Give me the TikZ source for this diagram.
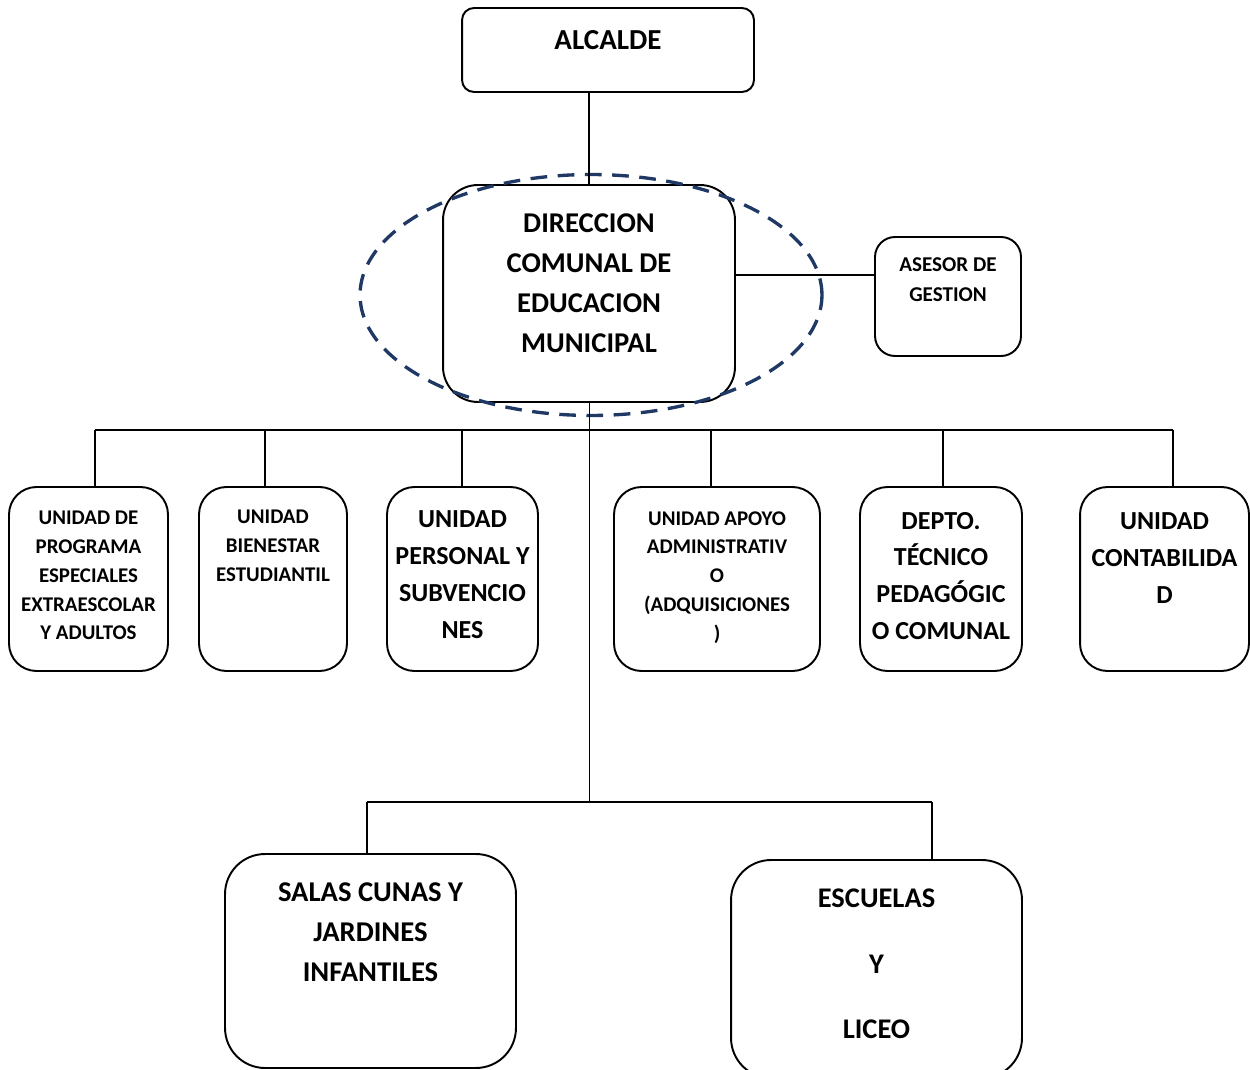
\documentclass[tikz,border=0pt]{standalone}
\usepackage{fontspec}
\setmainfont{Carlito}
\definecolor{navy}{HTML}{1F3864}

\begin{document}
\begin{tikzpicture}[x=0.02cm,y=-0.02cm,
    box/.style={draw,line width=1.1pt,rounded corners=#1},
    box/.default=0.55cm,
    small/.style={font=\bfseries\fontsize{11.9}{16.4}\selectfont,align=center},
    big/.style={font=\bfseries\fontsize{14.8}{21}\selectfont,align=center},
    huge/.style={font=\bfseries\fontsize{16.3}{22.7}\selectfont,align=center},
    link/.style={line width=0.8pt}]
        \useasboundingbox (0,0) rectangle (1250,1070);
        % top levels
        \node[box=0.24cm,minimum width=5.84cm,minimum height=1.68cm] (alc) at (608,50) {};
        \node[font=\bfseries\fontsize{16.5}{20}\selectfont] (alct) at ([yshift=0.2cm]alc.center) {ALCALDE};
        \node[box=0.7cm,minimum width=5.84cm,minimum height=4.34cm] (dir) at (589,293.5) {};
        \node[huge] (dirt) at ([yshift=0.2cm]dir.center) {DIRECCION\\COMUNAL DE\\EDUCACION\\MUNICIPAL};
        \node[box=0.4cm,minimum width=2.92cm,minimum height=2.38cm] (ase) at (948,296.5) {};
        \node[font=\bfseries\fontsize{12}{17}\selectfont,align=center] (aset) at ([yshift=0.33cm]ase.center) {ASESOR DE\\GESTION};
        \draw[navy,line width=1.9pt,dash pattern=on 9.5pt off 6pt] (591,295) ellipse [x radius=4.62cm,y radius=2.41cm];
        % units
        \foreach \n/\x/\w in {u1/88.5/3.18,u2/273/2.96,u3/462.5/3.02,u4/717/4.12,u5/941/3.24,u6/1164.5/3.38}
          \node[box,minimum width=\w cm,minimum height=3.68cm] (\n) at (\x,579) {};
        \node[small] (u1t) at ([yshift=0.07cm]u1.center) {UNIDAD DE\\PROGRAMA\\ESPECIALES\\EXTRAESCOLAR\\Y ADULTOS};
        \node[small] (u2t) at ([yshift=0.66cm]u2.center) {UNIDAD\\BIENESTAR\\ESTUDIANTIL};
        \node[big] (u3t) at ([yshift=0.08cm]u3.center) {UNIDAD\\PERSONAL Y\\SUBVENCIO\\NES};
        \node[small] (u4t) at ([yshift=0.03cm]u4.center) {UNIDAD APOYO\\ADMINISTRATIV\\O\\(ADQUISICIONES\\)};
        \node[big] (u5t) at ([yshift=0.06cm]u5.center) {DEPTO.\\TÉCNICO\\PEDAGÓGIC\\O COMUNAL};
        \node[big] (u6t) at ([yshift=0.42cm]u6.center) {UNIDAD\\CONTABILIDA\\D};
        % establishments
        \node[box=0.8cm,minimum width=5.82cm,minimum height=4.28cm] (sal) at (370.5,961) {};
        \node[huge] (salt) at ([yshift=0.58cm]sal.center) {SALAS CUNAS Y\\JARDINES\\INFANTILES};
        \node[box=0.8cm,minimum width=5.82cm,minimum height=4.36cm] (esc) at (876.5,969) {};
        \node[font=\bfseries\fontsize{16.2}{37.4}\selectfont,align=center] (esct) at ([yshift=0.1cm]esc.center) {ESCUELAS\\Y\\LICEO};
        % connectors
        \coordinate (barL) at (95,430);
        \coordinate (barR) at (1173,430);
        \coordinate (busL) at (367,802);
        \coordinate (busR) at (932,802);
        \draw[link] (dir.north) -- (dir.north |- alc.south);
        \draw[link] (dir.east |- 0,275) -- (ase.west |- 0,275);
        \draw[line width=0.5pt] (dir.south) -- (dir.south |- busL);
        \draw[line width=1.1pt] (barL) -- (barR);
        \foreach \n/\x in {u1/95,u2/265,u3/462,u4/711,u5/943,u6/1173}
          \draw[link] (\x,430) -- (\n.north -| \x,0);
        \draw[link] (busL) -- (busR);
        \draw[link] (busL) -- (sal.north -| busL);
        \draw[link] (busR) -- (esc.north -| busR);
\end{tikzpicture}
\end{document}
